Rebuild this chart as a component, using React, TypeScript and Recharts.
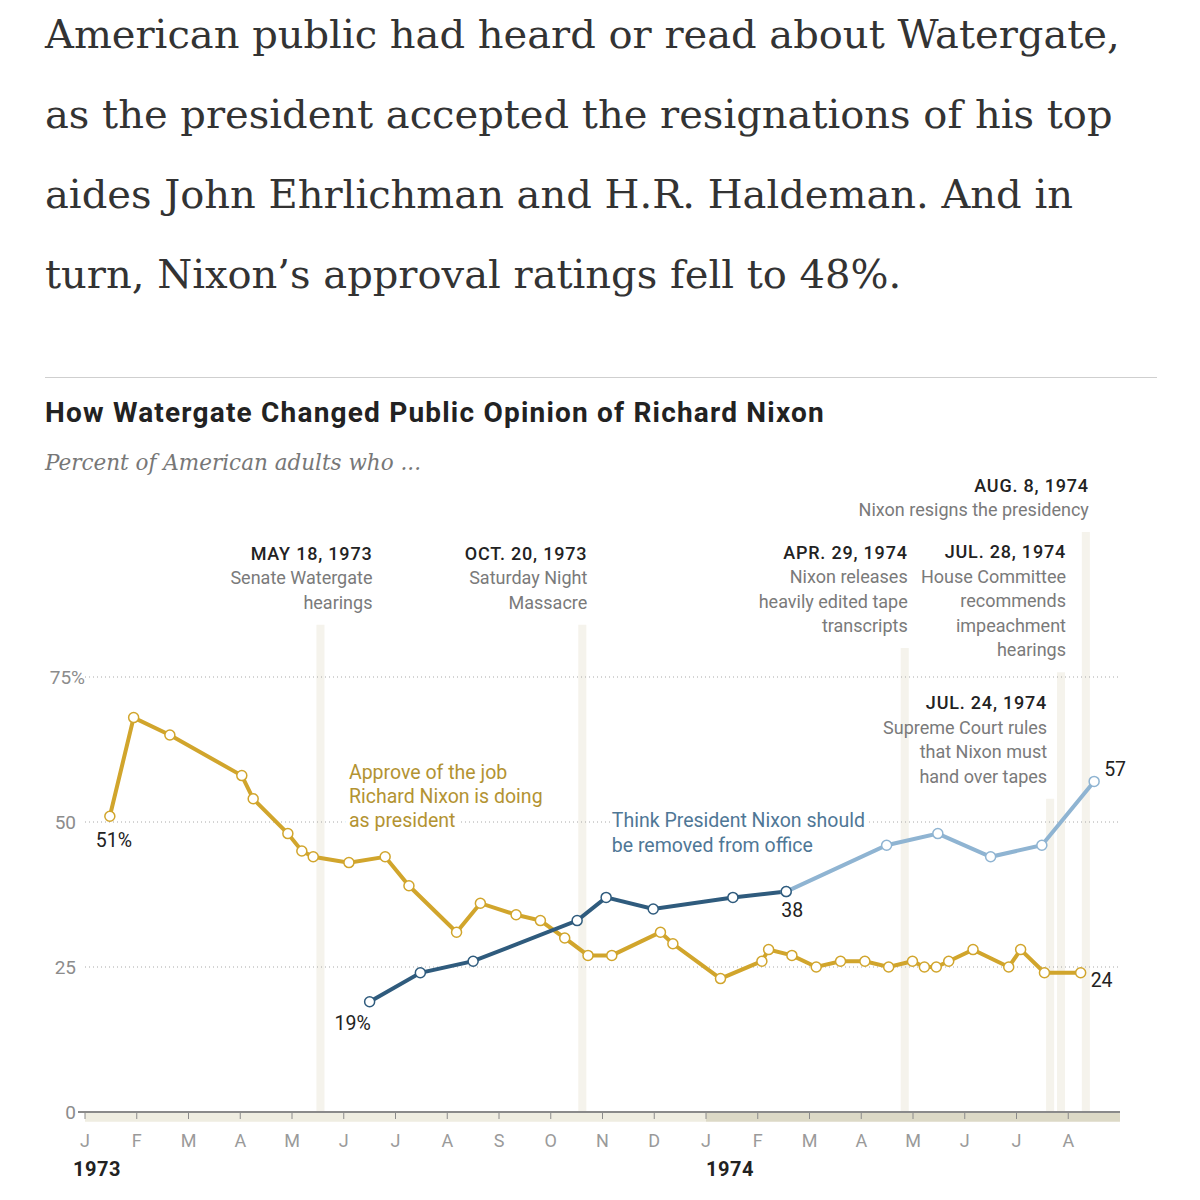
import React from 'react';
import { LineChart, Line, XAxis, YAxis, ReferenceArea, ReferenceDot, ReferenceLine, LabelList } from 'recharts';

// x values are months since Jan 1, 1973
const approveMonths = [0.48, 0.94, 1.64, 3.03, 3.25, 3.92, 4.19, 4.41, 5.1, 5.8, 6.26, 7.18, 7.64, 8.33, 8.8, 9.27, 9.72, 10.18, 11.12, 11.36, 12.28, 13.08, 13.21, 13.66, 14.13, 14.6, 15.07, 15.53, 15.99, 16.22, 16.45, 16.69, 17.16, 17.85, 18.08, 18.54, 19.24];
const approveValues = [51, 68, 65, 58, 54, 48, 45, 44, 43, 44, 39, 31, 36, 34, 33, 30, 27, 27, 31, 29, 23, 26, 28, 27, 25, 26, 26, 25, 26, 25, 25, 26, 28, 25, 28, 24, 24];

const removedMonths = [5.5, 6.48, 7.5, 9.51, 10.07, 10.98, 12.52, 13.55, 15.49, 16.48, 17.5, 18.49, 19.5];
const removedValues = [19, 24, 26, 33, 37, 35, 37, 38, 46, 48, 44, 46, 57];

const monthTicks = [0, 1, 2, 3, 4, 5, 6, 7, 8, 9, 10, 11, 12, 13, 14, 15, 16, 17, 18, 19];
const monthLabels = ['J', 'F', 'M', 'A', 'M', 'J', 'J', 'A', 'S', 'O', 'N', 'D', 'J', 'F', 'M', 'A', 'M', 'J', 'J', 'A'];
const yearTicks = [0, 12];
const yearLabels = ['1973', '1974'];
const yTicks = [0, 25, 50, 75];

const eventMonths = [4.55, 9.61, 15.84, 18.65, 18.86, 19.34];
const eventDates = ['MAY 18, 1973', 'OCT. 20, 1973', 'APR. 29, 1974', 'JUL. 24, 1974', 'JUL. 28, 1974', 'AUG. 8, 1974'];
const eventNotes = [
  ['Senate Watergate', 'hearings'],
  ['Saturday Night', 'Massacre'],
  ['Nixon releases', 'heavily edited tape', 'transcripts'],
  ['Supreme Court rules', 'that Nixon must', 'hand over tapes'],
  ['House Committee', 'recommends', 'impeachment', 'hearings'],
  ['Nixon resigns the presidency'],
];

const approveCallIdx = [0, 36];
const approveCallText = ['51%', '24'];
const darkCallIdx = [0, 7];
const darkCallText = ['19%', '38'];
const lightCallIdx = [5];
const lightCallText = ['57'];

const articleLines = [
  'American public had heard or read about Watergate,',
  'as the president accepted the resignations of his top',
  'aides John Ehrlichman and H.R. Haldeman. And in',
  'turn, Nixon\u2019s approval ratings fell to 48%.',
];

// layout bits (not data)
const stripTops = [84, 84, 80, 54, 75.8, 100];
const stripLabelDx = [52, 5, 3, -3, 5, 3];
const approveCallPos = [[4, 24, 'middle'], [10, 8, 'start']];
const darkCallPos = [[-17, 22, 'middle'], [6, 19, 'middle']];
const lightCallPos = [[10, -12, 'start']];

const GOLD = '#d1a52c';
const DARK_BLUE = '#2f5b7d';
const LIGHT_BLUE = '#8fb4d2';
const SANS = 'Roboto, "Noto Sans", sans-serif';

const approveData = approveMonths.map((m, i) => ({ m, v: approveValues[i] }));
const removedData = removedMonths.map((m, i) => ({ m, v: removedValues[i] }));
const darkData = removedData.slice(0, 8);
const lightData = removedData.slice(7);

function makeCallout(idxs: number[], texts: string[], pos: any[]) {
  return (p: any) => {
    const k = idxs.indexOf(p.index);
    if (k < 0) return null;
    const [dx, dy, anchor] = pos[k];
    return (
      <text x={p.x + dx} y={p.y + dy} textAnchor={anchor} dominantBaseline="central" fontSize={19.5} fill="#222" fontFamily={SANS}>
        {texts[k]}
      </text>
    );
  };
}

function EventLabel(props: any) {
  const { viewBox, k } = props;
  if (!viewBox) return null;
  const right = viewBox.x + viewBox.width / 2 + stripLabelDx[k];
  const notes = eventNotes[k];
  const last = viewBox.y - 16;
  const first = last - 24.5 * notes.length;
  return (
    <g fontFamily={SANS} fontSize={18} textAnchor="end">
      <text x={right} y={first} fill="#222" fontWeight={500} letterSpacing={0.8}>{eventDates[k]}</text>
      {notes.map((t, i) => (
        <text key={i} x={right} y={first + 24.5 * (i + 1)} fill="#7a7a7a">{t}</text>
      ))}
    </g>
  );
}

function SeriesLabel(props: any) {
  const { viewBox, lines, color, gap } = props;
  if (!viewBox) return null;
  return (
    <g fontFamily={SANS} fontSize={19.5} fill={color}>
      {lines.map((t: string, i: number) => (
        <text key={i} x={viewBox.x} y={viewBox.y + gap * i} dominantBaseline="central"
          stroke="#fff" strokeWidth={10} paintOrder="stroke" strokeLinejoin="round">
          {t}
        </text>
      ))}
    </g>
  );
}

const MonthTick = (props: any) => {
  const { x, y, payload } = props;
  const yi = yearTicks.indexOf(payload.value);
  return (
    <g fontFamily={SANS}>
      <text x={x} y={y + 26} textAnchor="middle" fill="#9a9a9a" fontSize={18}>{monthLabels[payload.value]}</text>
      {yi >= 0 && (
        <text x={x + (yi === 0 ? -12 : 0)} y={y + 55} fill="#222" fontWeight={700} fontSize={20} letterSpacing={0.5}>{yearLabels[yi]}</text>
      )}
    </g>
  );
};

const ValueTick = (props: any) => {
  const { x, y, payload } = props;
  const v = payload.value;
  return (
    <g fontFamily={SANS} fontSize={19} fill="#8c8c8c">
      <text x={v === 75 ? x + 9 : x} y={y} textAnchor="end" dominantBaseline="central">{v === 75 ? '75%' : v}</text>
      {v === 0 && <line x1={x + 2} x2={x + 9} y1={y} y2={y} stroke="#8a8a8a" strokeWidth={2} />}
    </g>
  );
};

export default function App() {
  return (
    <div style={{ position: 'absolute', left: 0, top: 0, width: 1200, height: 1200, background: '#fff', overflow: 'hidden' }}>
      <div style={{ position: 'absolute', left: 0, top: 0 }}>
        <LineChart width={1200} height={1200} data={approveData} margin={{ top: 532, right: 80, bottom: 28, left: 40 }}>
          {yTicks.filter((t) => t > 0).map((t) => (
            <ReferenceLine key={t} y={t} stroke="#a8a8a8" strokeDasharray="1 3" />
          ))}
          {eventMonths.map((m, k) => (
            <ReferenceArea key={k} x1={m - 0.078} x2={m + 0.078} y1={0} y2={stripTops[k]} fill="#f5f3ec" fillOpacity={1}
              stroke="none" ifOverflow="visible" label={<EventLabel k={k} />} />
          ))}
          <ReferenceArea x1={0} x2={12} y1={-1.7} y2={0} fill="#efede1" fillOpacity={1} stroke="none" ifOverflow="visible" />
          <ReferenceArea x1={12} x2={20} y1={-1.7} y2={0} fill="#dcd9c6" fillOpacity={1} stroke="none" ifOverflow="visible" />
          <XAxis dataKey="m" type="number" domain={[0, 20]} ticks={monthTicks} height={60}
            axisLine={{ stroke: '#8a8a8a', strokeWidth: 2 }} tickLine={{ stroke: '#8a8a8a' }} tickSize={7} tick={<MonthTick />} />
          <YAxis type="number" domain={[0, 100]} ticks={yTicks} width={45} axisLine={false} tickLine={false}
            tickSize={0} tickMargin={9} tick={<ValueTick />} />
          <ReferenceDot x={5.1} y={58.45} r={0} fill="none" stroke="none" ifOverflow="visible"
            label={<SeriesLabel lines={['Approve of the job', 'Richard Nixon is doing', 'as president']} color="#b39332" gap={24} />} />
          <ReferenceDot x={10.18} y={50.3} r={0} fill="none" stroke="none" ifOverflow="visible"
            label={<SeriesLabel lines={['Think President Nixon should', 'be removed from office']} color="#4f7796" gap={25} />} />
          <Line data={approveData} dataKey="v" type="linear" stroke={GOLD} strokeWidth={4} isAnimationActive={false}
            dot={{ r: 5, fill: '#fff', stroke: GOLD, strokeWidth: 1.5 }} activeDot={false}>
            <LabelList dataKey="v" content={makeCallout(approveCallIdx, approveCallText, approveCallPos)} />
          </Line>
          <Line data={lightData} dataKey="v" type="linear" stroke={LIGHT_BLUE} strokeWidth={4} isAnimationActive={false}
            dot={{ r: 5, fill: '#fff', stroke: LIGHT_BLUE, strokeWidth: 1.5 }} activeDot={false}>
            <LabelList dataKey="v" content={makeCallout(lightCallIdx, lightCallText, lightCallPos)} />
          </Line>
          <Line data={darkData} dataKey="v" type="linear" stroke={DARK_BLUE} strokeWidth={4} isAnimationActive={false}
            dot={{ r: 5, fill: '#fff', stroke: DARK_BLUE, strokeWidth: 1.5 }} activeDot={false}>
            <LabelList dataKey="v" content={makeCallout(darkCallIdx, darkCallText, darkCallPos)} />
          </Line>
        </LineChart>
      </div>

      <div style={{ position: 'absolute', left: 45, top: -6, fontFamily: '"DejaVu Serif", serif', fontSize: 40, lineHeight: '80px', color: '#333' }}>
        {articleLines.map((t, i) => (
          <div key={i} style={{ whiteSpace: 'nowrap' }}>{t}</div>
        ))}
      </div>
      <div style={{ position: 'absolute', left: 45, top: 377, width: 1112, height: 0, borderTop: '1.5px solid #cfcfcf' }} />
      <div style={{ position: 'absolute', left: 45, top: 395, fontFamily: SANS, fontSize: 28, fontWeight: 700, color: '#222', whiteSpace: 'nowrap', letterSpacing: 1.2, lineHeight: '36px' }}>
        How Watergate Changed Public Opinion of Richard Nixon
      </div>
      <div style={{ position: 'absolute', left: 45, top: 450, fontFamily: '"DejaVu Serif", serif', fontStyle: 'italic', fontSize: 21.5, color: '#777', whiteSpace: 'nowrap' }}>
        Percent of American adults who ...
      </div>
    </div>
  );
}
